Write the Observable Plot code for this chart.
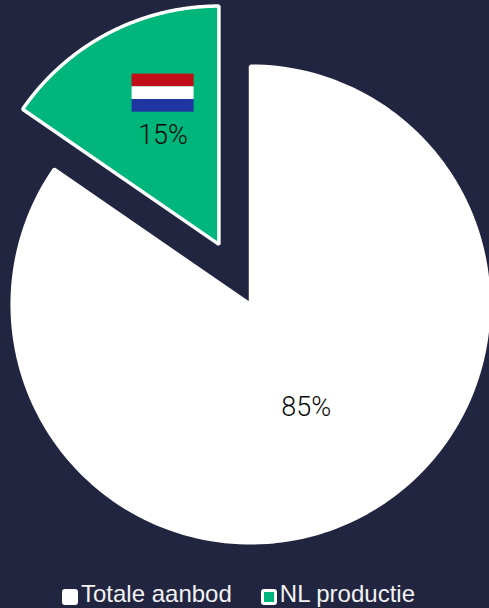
<!DOCTYPE html>
<html>
<head>
<meta charset="utf-8">
<script src="https://cdn.jsdelivr.net/npm/d3@7"></script>
<script src="https://cdn.jsdelivr.net/npm/@observablehq/plot@0.6"></script>
<style>
html,body{margin:0;padding:0;background:#222540;width:489px;height:608px;overflow:hidden}
#chart{display:block;height:576px}
#legend{display:flex;justify-content:flex-start;height:32px;font-family:"Liberation Sans",Arial,sans-serif;font-size:24px;color:#f2f2f2;line-height:28px;padding-left:62px;box-sizing:border-box}
.item{display:flex;align-items:flex-start;margin-right:29px}
.sw{width:16px;height:16px;border-radius:3px;margin-right:3px;margin-top:13px;box-sizing:border-box;border:3px solid #fff}
.txt{position:relative;top:4px}
</style>
</head>
<body>
<div id="chart"></div>
<div id="legend"></div>
<script>
const categories = ["Totale aanbod", "NL productie"];
const values = [84.6, 15.4];
const labels = ["85%", "15%"];
const colors = ["#ffffff", "#00b67a"];
const explode = [0, 0.283];
const flagStripes = ["#c00d18", "#ffffff", "#1f36a2"];

const W = 489, H = 576, R = 240, cx = 250, cy = 304;
const pie = d3.pie().sort(null).value(d => d)(values);
const outline = [], labelRows = [];
pie.forEach((s, i) => {
  const mid = (s.startAngle + s.endAngle) / 2;
  const ox = explode[i] * Math.sin(mid), oy = explode[i] * Math.cos(mid);
  const r = 0.993;
  outline.push({cat: categories[i], x: ox, y: oy});
  const steps = 180;
  for (let k = 0; k <= steps; k++) {
    const a = s.startAngle + (s.endAngle - s.startAngle) * k / steps;
    outline.push({cat: categories[i], x: ox + r * Math.sin(a), y: oy + r * Math.cos(a)});
  }
  labelRows.push({label: labels[i], x: ox + 0.5 * Math.sin(mid), y: oy + 0.5 * Math.cos(mid)});
});
const anchor = labelRows[1];
const stripeH = 12.7 / R, flagW = 31 / R, flagMid = 45 / R;
const flagRows = flagStripes.map((c, i) => ({
  c,
  x1: anchor.x - flagW, x2: anchor.x + flagW,
  y1: anchor.y + flagMid + (1.5 - i) * stripeH,
  y2: anchor.y + flagMid + (0.5 - i) * stripeH
}));

const chart = Plot.plot({
  width: W, height: H,
  margin: 0,
  style: {background: "transparent"},
  x: {domain: [-cx / R, (W - cx) / R], range: [0, W], axis: null},
  y: {domain: [-(H - cy) / R, cy / R], range: [H, 0], axis: null},
  color: {domain: categories, range: colors},
  marks: [
    Plot.line(outline, {x: "x", y: "y", fill: "cat", stroke: "#ffffff", strokeWidth: 3.5, curve: "linear-closed", strokeLinejoin: "miter"}),
    Plot.rect(flagRows, {x1: "x1", x2: "x2", y1: "y1", y2: "y2", fill: "c", inset: 0}),
    Plot.text(labelRows, {x: "x", y: "y", dy: -3, text: "label", fill: "#0a0a0a", fontSize: 27, fontWeight: 300, fontFamily: "Roboto"})
  ]
});
document.getElementById("chart").appendChild(chart);

const legend = document.getElementById("legend");
categories.forEach((c, i) => {
  const it = document.createElement("div"); it.className = "item";
  const sw = document.createElement("div"); sw.className = "sw"; sw.style.background = colors[i];
  const t = document.createElement("span"); t.className = "txt"; t.textContent = c;
  it.append(sw, t); legend.append(it);
});
</script>
</body>
</html>
